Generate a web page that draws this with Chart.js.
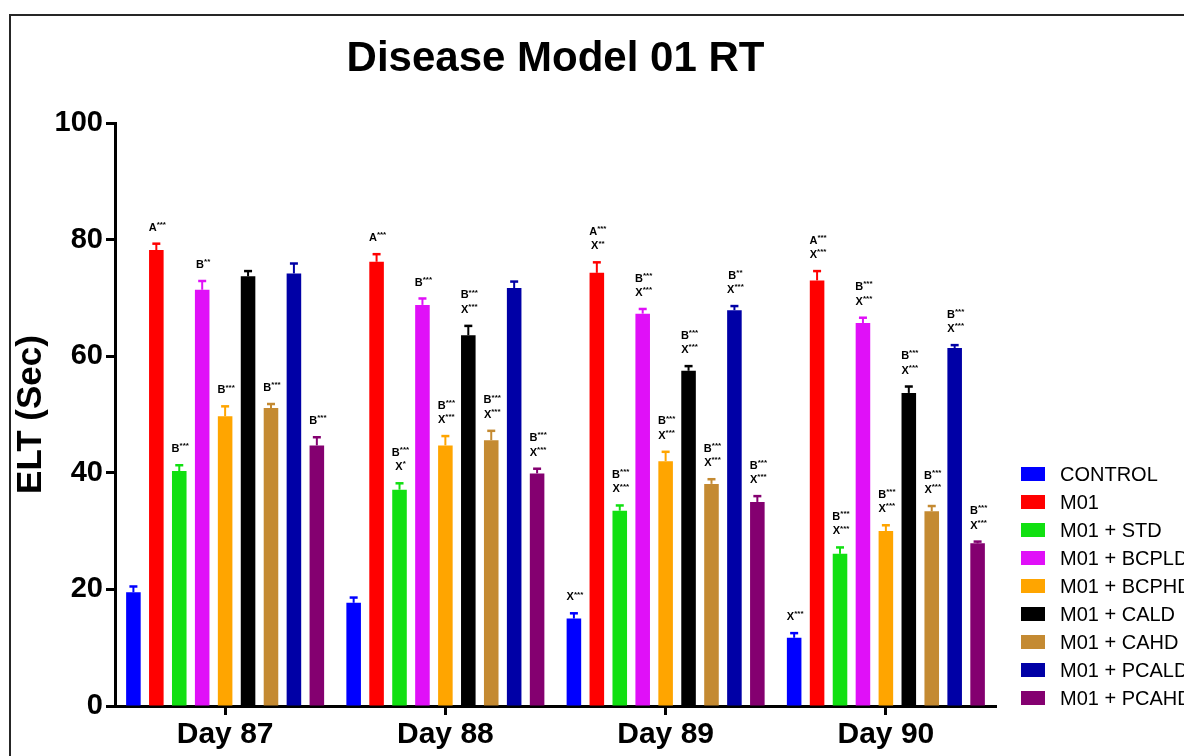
<!DOCTYPE html>
<html>
<head>
<meta charset="utf-8">
<title>Disease Model 01 RT</title>
<script src="https://cdn.jsdelivr.net/npm/chart.js@4.4.1/dist/chart.umd.min.js"></script>
<style>
  html, body { margin: 0; padding: 0; background: #fff; }
  #wrap { position: relative; width: 1184px; height: 756px; }
</style>
</head>
<body>
<div id="wrap"><canvas id="chart" width="1184" height="756"></canvas></div>
<script>
// Time points on the x axis
const days = ['Day 87', 'Day 88', 'Day 89', 'Day 90'];

// Treatment groups (legend order)
const groupNames = ['CONTROL', 'M01', 'M01 + STD', 'M01 + BCPLD', 'M01 + BCPHD',
                    'M01 + CALD', 'M01 + CAHD', 'M01 + PCALD', 'M01 + PCAHD'];
const groupColors = ['#0000ff', '#ff0000', '#11e011', '#e010f8', '#ffa500',
                     '#000000', '#c48a32', '#0000a6', '#840070'];

// Mean ELT (sec) per group, one value per day
const controlMean = [19.5, 17.7, 15.0, 11.7];
const m01Mean     = [78.2, 76.2, 74.3, 73.0];
const stdMean     = [40.3, 37.1, 33.5, 26.1];
const bcpldMean   = [71.4, 68.8, 67.3, 65.7];
const bcphdMean   = [49.7, 44.7, 42.0, 30.0];
const caldMean    = [73.7, 63.6, 57.5, 53.7];
const cahdMean    = [51.1, 45.6, 38.1, 33.4];
const pcaldMean   = [74.2, 71.7, 67.9, 61.4];
const pcahdMean   = [44.7, 39.9, 35.0, 27.9];

// SEM per group, one value per day
const controlSem = [1.0, 0.9, 0.9, 0.8];
const m01Sem     = [1.1, 1.3, 1.8, 1.6];
const stdSem     = [1.0, 1.1, 0.9, 1.1];
const bcpldSem   = [1.5, 1.1, 0.8, 0.9];
const bcphdSem   = [1.7, 1.6, 1.6, 1.0];
const caldSem    = [0.9, 1.6, 0.8, 1.1];
const cahdSem    = [0.7, 1.6, 0.8, 0.9];
const pcaldSem   = [1.7, 1.1, 0.7, 0.5];
const pcahdSem   = [1.4, 0.8, 1.0, 0.3];

// Significance marks above each bar (lines separated by '\n')
const controlSig = ['', '', 'X***', 'X***'];
const m01Sig     = ['A***', 'A***', 'A***\nX**', 'A***\nX***'];
const stdSig     = ['B***', 'B***\nX*', 'B***\nX***', 'B***\nX***'];
const bcpldSig   = ['B**', 'B***', 'B***\nX***', 'B***\nX***'];
const bcphdSig   = ['B***', 'B***\nX***', 'B***\nX***', 'B***\nX***'];
const caldSig    = ['', 'B***\nX***', 'B***\nX***', 'B***\nX***'];
const cahdSig    = ['B***', 'B***\nX***', 'B***\nX***', 'B***\nX***'];
const pcaldSig   = ['', '', 'B**\nX***', 'B***\nX***'];
const pcahdSig   = ['B***', 'B***\nX***', 'B***\nX***', 'B***\nX***'];

// Y axis
const yMin = 0, yMax = 100, yStep = 20;

const means = [controlMean, m01Mean, stdMean, bcpldMean, bcphdMean, caldMean, cahdMean, pcaldMean, pcahdMean];
const sems  = [controlSem, m01Sem, stdSem, bcpldSem, bcphdSem, caldSem, cahdSem, pcaldSem, pcahdSem];
const sigs  = [controlSig, m01Sig, stdSig, bcpldSig, bcphdSig, caldSig, cahdSig, pcaldSig, pcahdSig];

const FONT = '"Liberation Sans", Arial, Helvetica, sans-serif';

const datasets = groupNames.map((name, i) => ({
  label: name,
  data: means[i],
  sem: sems[i],
  sig: sigs[i],
  backgroundColor: groupColors[i],
  borderWidth: 0,
  categoryPercentage: 0.937,
  barPercentage: 0.635
}));

// White page with the thin frame around the figure
const framePlugin = {
  id: 'frame',
  beforeDraw(chart) {
    const ctx = chart.ctx;
    ctx.save();
    ctx.fillStyle = '#fff';
    ctx.fillRect(0, 0, chart.width, chart.height);
    ctx.strokeStyle = '#262626';
    ctx.lineWidth = 2;
    ctx.strokeRect(10, 15, chart.width + 40, chart.height + 40);
    ctx.restore();
  }
};

// Upward SEM whiskers and significance letters above each bar
const errorPlugin = {
  id: 'semBars',
  afterDatasetsDraw(chart) {
    const ctx = chart.ctx;
    const y = chart.scales.y;
    ctx.save();
    chart.data.datasets.forEach((ds, di) => {
      const meta = chart.getDatasetMeta(di);
      meta.data.forEach((bar, i) => {
        const v = ds.data[i];
        const top = y.getPixelForValue(v + ds.sem[i]);
        ctx.strokeStyle = ds.backgroundColor;
        ctx.lineWidth = 2;
        ctx.beginPath();
        ctx.moveTo(bar.x, bar.y);
        ctx.lineTo(bar.x, top);
        ctx.stroke();
        ctx.lineWidth = 2.5;
        ctx.beginPath();
        ctx.moveTo(bar.x - 4, top);
        ctx.lineTo(bar.x + 4, top);
        ctx.stroke();

        const text = ds.sig[i];
        if (!text) return;
        const lines = text.split('\n');
        lines.forEach((ln, k) => {
          const cy = top - 16 - (lines.length - 1 - k) * 14.5;
          const letter = ln.charAt(0);
          const stars = ln.slice(1);
          ctx.font = 'bold 11px ' + FONT;
          const wl = ctx.measureText(letter).width;
          ctx.font = 'bold 8px ' + FONT;
          const ws = ctx.measureText(stars).width;
          const x0 = bar.x - (wl + ws) / 2 + 1;
          ctx.fillStyle = '#000';
          ctx.textBaseline = 'middle';
          ctx.textAlign = 'left';
          ctx.font = 'bold 11px ' + FONT;
          ctx.fillText(letter, x0, cy);
          ctx.font = 'bold 8px ' + FONT;
          ctx.fillText(stars, x0 + wl, cy - 3);
        });
      });
    });
    ctx.restore();
  }
};

// Legend column on the right
const legendPlugin = {
  id: 'sideLegend',
  afterDraw(chart) {
    const ctx = chart.ctx;
    ctx.save();
    chart.data.datasets.forEach((ds, i) => {
      const cy = 474 + i * 28;
      ctx.fillStyle = ds.backgroundColor;
      ctx.fillRect(1021, cy - 7, 24, 14);
      ctx.fillStyle = '#000';
      ctx.font = '20px ' + FONT;
      ctx.textBaseline = 'middle';
      ctx.textAlign = 'left';
      ctx.fillText(ds.label, 1060, cy + 1);
    });
    ctx.restore();
  }
};

new Chart(document.getElementById('chart'), {
  type: 'bar',
  data: { labels: days, datasets },
  plugins: [framePlugin, errorPlugin, legendPlugin],
  options: {
    responsive: false,
    animation: false,
    layout: { padding: { left: 0, right: 188, top: 0, bottom: 0 } },
    plugins: {
      legend: { display: false },
      tooltip: { enabled: false },
      title: {
        display: true,
        text: 'Disease Model 01 RT',
        fullSize: false,
        color: '#000',
        font: { family: FONT, size: 42, weight: 'bold' },
        padding: { top: 34, bottom: 38.6 }
      }
    },
    scales: {
      x: {
        grid: { display: true, drawOnChartArea: false, drawTicks: true, offset: false,
                tickLength: 9, tickWidth: 3, tickColor: '#000' },
        border: { display: true, color: '#000', width: 3 },
        ticks: { color: '#000', padding: 2, font: { family: FONT, size: 30, weight: 'bold' } },
        afterFit(scale) { scale.height = 50; }
      },
      y: {
        min: yMin,
        max: yMax,
        ticks: { stepSize: yStep, color: '#000', padding: 3,
                 font: { family: FONT, size: 29, weight: 'bold' } },
        grid: { display: true, drawOnChartArea: false, drawTicks: true,
                tickLength: 9, tickWidth: 3, tickColor: '#000' },
        border: { display: true, color: '#000', width: 3 },
        title: { display: true, text: 'ELT (Sec)', color: '#000',
                 font: { family: FONT, size: 35, weight: 'bold' },
                 padding: { top: 10, bottom: 0 } },
        afterFit(scale) { scale.width = 115; }
      }
    }
  }
});
</script>
</body>
</html>
